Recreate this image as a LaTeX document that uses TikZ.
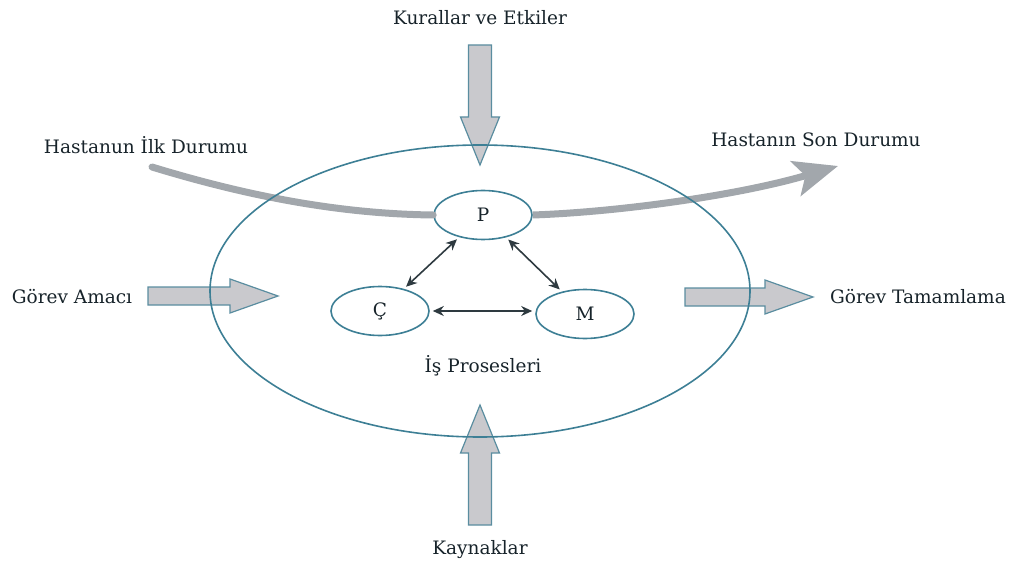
\documentclass[tikz,border=0pt]{standalone}
\usepackage{fontspec}
\setmainfont{DejaVu Serif}
\usetikzlibrary{shapes.geometric, arrows.meta, positioning}
\definecolor{inkText}{HTML}{17232A}
\definecolor{ringLine}{HTML}{3D7F95}
\definecolor{arrowLine}{HTML}{5A8DA0}
\definecolor{arrowFill}{HTML}{C9C9CD}
\definecolor{flowGrey}{HTML}{A2A7AC}
\definecolor{dblInk}{HTML}{2E3A40}

% block arrow: [shaft half width]{tail}{angle}{length}
\newcommand{\blockarr}[4][11.5]{%
	\draw[blockarrow, shift={(#2)}, rotate=#3]
	(0,-#1) -- (#4-48,-#1) -- (#4-48,-#1-8) -- (#4,0) --
	(#4-48,#1+8) -- (#4-48,#1) -- (0,#1) -- cycle;}

\begin{document}
\begin{tikzpicture}[
		x=1pt, y=-1pt,
		every node/.style={
				text=inkText,
				font=\fontsize{18.5}{21}\selectfont
			},
		ring/.style={draw=ringLine, line width=1.6pt, ellipse, inner sep=0pt},
		smallring/.style={ring, minimum width=98pt, minimum height=49pt},
		blockarrow/.style={draw=arrowLine, fill=arrowFill, line width=1.2pt, line join=miter},
		flow/.style={draw=flowGrey, line width=7pt},
		dbl/.style={
				{Stealth[length=11pt, width=10pt]}-{Stealth[length=11pt, width=10pt]},
				draw=dblInk, line width=1.6pt,
				shorten >=3pt, shorten <=3pt
			}
	]
	\useasboundingbox (0,0) rectangle (1013,567);

	% outside texts
	\node (rulesTag) at (480,18) {Kurallar ve Etkiler};
	\node (resTag) at (480,550) {Kaynaklar};
	\node (goalTag) at (72,297) {Görev Amacı};
	\node (doneTag) at (918,297) {Görev Tamamlama};
	\node (startTag) at (146,145) {Hastanun İlk Durumu};
	\node (endTag) at (816,140) {Hastanın Son Durumu};

	% the three parts
	\node[smallring] (P) at (483,215) {P};
	\node[smallring] (C) at (380,311) {Ç};
	\node[smallring] (M) at (585,314) {M};
	\node (workTag) at (483,366) {İş Prosesleri};

	\draw[dbl] (C) -- (P);
	\draw[dbl] (P) -- (M);
	\draw[dbl] (C.east) -- (C.east -| M.west);

	% patient state curve
	\coordinate (flowStart) at (152,167);
	\coordinate (flowEnd) at (838,166);
	\draw[flow, line cap=round] (flowStart) .. controls (260,200) and (350,214) .. (P.west);
	\draw[flow, -{Stealth[length=44pt, width=36pt, inset=10pt]}]
	(P.east) .. controls (620,212) and (740,195) .. (flowEnd);

	% block arrows
	\coordinate (rulesTail) at (480,45);
	\coordinate (resTail) at (480,525);
	\coordinate (goalTail) at (148,296);
	\coordinate (doneTail) at (685,297);
	\blockarr{rulesTail}{-90}{120}
	\blockarr{resTail}{90}{120}
	\blockarr[9]{goalTail}{0}{130}
	\blockarr[9]{doneTail}{0}{128}

	\node[ring, minimum width=540pt, minimum height=292pt] (process) at (480,291) {};
\end{tikzpicture}
\end{document}
